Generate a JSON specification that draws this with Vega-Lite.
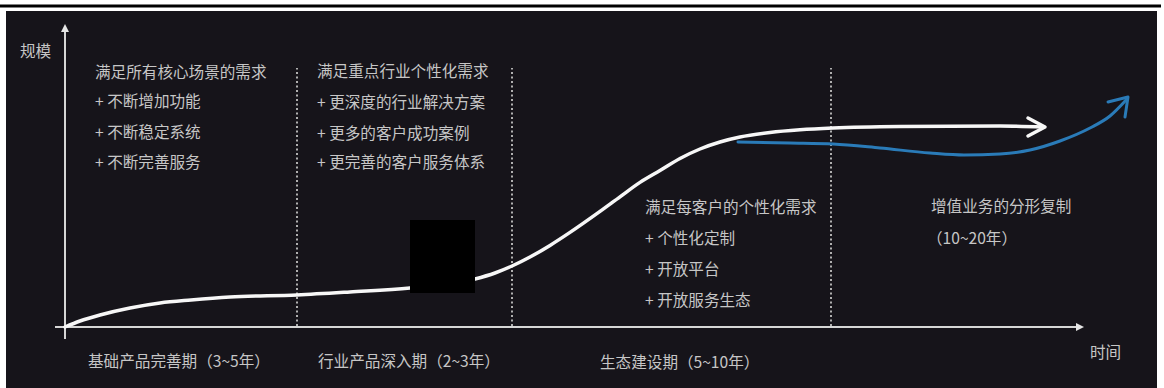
{
  "$schema": "https://vega.github.io/schema/vega-lite/v6.json",
  "width": 1164,
  "height": 388,
  "padding": 0,
  "autosize": {"type": "none"},
  "background": "#ffffff",
  "config": {"view": {"stroke": null}},
  "layer": [
    {
      "data": {"values": [{"x": 6, "x2": 1157, "y": 0, "y2": 377}]},
      "mark": {"type": "rect", "color": "#16141a"},
      "encoding": {
        "x": {"field": "x", "type": "quantitative", "scale": {"type": "linear", "domain": [0, 1164], "nice": false, "zero": false}, "axis": null},
        "x2": {"field": "x2"},
        "y": {"field": "y", "type": "quantitative", "scale": {"type": "linear", "domain": [0, 388], "nice": false, "zero": false}, "axis": null},
        "y2": {"field": "y2"}
      }
    },
    {
      "data": {"values": [{"x": 0, "x2": 1161, "y": 382}]},
      "mark": {"type": "rule", "color": "#000000", "strokeWidth": 3},
      "encoding": {
        "x": {"field": "x", "type": "quantitative", "scale": {"type": "linear", "domain": [0, 1164], "nice": false, "zero": false}, "axis": null},
        "x2": {"field": "x2"},
        "y": {"field": "y", "type": "quantitative", "scale": {"type": "linear", "domain": [0, 388], "nice": false, "zero": false}, "axis": null}
      }
    },
    {
      "data": {"values": [{"x": 65, "x2": 65, "y": 49, "y2": 361}, {"x": 55, "x2": 1078, "y": 61, "y2": 61}]},
      "mark": {"type": "rule", "color": "#d6d6d6", "strokeWidth": 2},
      "encoding": {
        "x": {"field": "x", "type": "quantitative", "scale": {"type": "linear", "domain": [0, 1164], "nice": false, "zero": false}, "axis": null},
        "x2": {"field": "x2"},
        "y": {"field": "y", "type": "quantitative", "scale": {"type": "linear", "domain": [0, 388], "nice": false, "zero": false}, "axis": null},
        "y2": {"field": "y2"}
      }
    },
    {
      "data": {"values": [{"t": 65, "v": 364}]},
      "mark": {"type": "point", "shape": "M 0 0 L -0.5 1 L 0.5 1 Z", "size": 256, "filled": true, "color": "#e6e6e6", "opacity": 1},
      "encoding": {
        "x": {"field": "t", "type": "quantitative", "scale": {"type": "linear", "domain": [0, 1164], "nice": false, "zero": false}, "axis": null},
        "y": {"field": "v", "type": "quantitative", "scale": {"type": "linear", "domain": [0, 388], "nice": false, "zero": false}, "axis": null}
      }
    },
    {
      "data": {"values": [{"t": 1084, "v": 61}]},
      "mark": {"type": "point", "shape": "M 0 0 L -1 -0.5 L -1 0.5 Z", "size": 256, "filled": true, "color": "#e6e6e6", "opacity": 1},
      "encoding": {
        "x": {"field": "t", "type": "quantitative", "scale": {"type": "linear", "domain": [0, 1164], "nice": false, "zero": false}, "axis": null},
        "y": {"field": "v", "type": "quantitative", "scale": {"type": "linear", "domain": [0, 388], "nice": false, "zero": false}, "axis": null}
      }
    },
    {
      "data": {"values": [{"t": 297, "from": 62, "to": 320}, {"t": 512, "from": 62, "to": 320}, {"t": 831, "from": 62, "to": 320}]},
      "mark": {"type": "rule", "color": "#b0b0b0", "strokeWidth": 2, "strokeDash": [2, 2.5]},
      "encoding": {
        "x": {"field": "t", "type": "quantitative", "scale": {"type": "linear", "domain": [0, 1164], "nice": false, "zero": false}, "axis": null},
        "y": {"field": "from", "type": "quantitative", "scale": {"type": "linear", "domain": [0, 388], "nice": false, "zero": false}, "axis": null},
        "y2": {"field": "to"}
      }
    },
    {
      "data": {"values": [
        {"t": 65, "v": 61}, {"t": 80, "v": 67}, {"t": 100, "v": 73}, {"t": 130, "v": 80}, {"t": 160, "v": 85},
        {"t": 191, "v": 88}, {"t": 230, "v": 91}, {"t": 297, "v": 93}, {"t": 350, "v": 96}, {"t": 410, "v": 100},
        {"t": 475, "v": 109}, {"t": 495, "v": 115}, {"t": 512, "v": 122}, {"t": 530, "v": 131}, {"t": 550, "v": 142.6},
        {"t": 570, "v": 155.6}, {"t": 600, "v": 176.6}, {"t": 620, "v": 191.2}, {"t": 640, "v": 205.6}, {"t": 660, "v": 217.5},
        {"t": 680, "v": 229.5}, {"t": 700, "v": 239}, {"t": 720, "v": 246}, {"t": 740, "v": 251}, {"t": 770, "v": 255.5},
        {"t": 800, "v": 258.2}, {"t": 833, "v": 260}, {"t": 900, "v": 261.5}, {"t": 1000, "v": 262}, {"t": 1043, "v": 261}
      ]},
      "mark": {"type": "line", "color": "#f7f7f7", "strokeWidth": 3.5, "interpolate": "monotone", "strokeCap": "round"},
      "encoding": {
        "x": {"field": "t", "type": "quantitative", "scale": {"type": "linear", "domain": [0, 1164], "nice": false, "zero": false}, "axis": null},
        "y": {"field": "v", "type": "quantitative", "scale": {"type": "linear", "domain": [0, 388], "nice": false, "zero": false}, "axis": null}
      }
    },
    {
      "data": {"values": [{"t": 1045, "v": 261}]},
      "mark": {"type": "point", "shape": "M -1 -0.53 L 0 0 L -1 0.53", "size": 1156, "filled": false, "stroke": "#f7f7f7", "strokeWidth": 3.5, "opacity": 1, "strokeCap": "round", "strokeJoin": "round"},
      "encoding": {
        "x": {"field": "t", "type": "quantitative", "scale": {"type": "linear", "domain": [0, 1164], "nice": false, "zero": false}, "axis": null},
        "y": {"field": "v", "type": "quantitative", "scale": {"type": "linear", "domain": [0, 388], "nice": false, "zero": false}, "axis": null}
      }
    },
    {
      "data": {"values": [{"x": 410, "x2": 475, "y": 95, "y2": 168}]},
      "mark": {"type": "rect", "color": "#000000"},
      "encoding": {
        "x": {"field": "x", "type": "quantitative", "scale": {"type": "linear", "domain": [0, 1164], "nice": false, "zero": false}, "axis": null},
        "x2": {"field": "x2"},
        "y": {"field": "y", "type": "quantitative", "scale": {"type": "linear", "domain": [0, 388], "nice": false, "zero": false}, "axis": null},
        "y2": {"field": "y2"}
      }
    },
    {
      "data": {"values": [
        {"t": 738, "v": 246}, {"t": 790, "v": 245}, {"t": 833, "v": 244}, {"t": 880, "v": 240}, {"t": 930, "v": 235},
        {"t": 964, "v": 233}, {"t": 1000, "v": 234}, {"t": 1030, "v": 238}, {"t": 1060, "v": 247}, {"t": 1090, "v": 260},
        {"t": 1110, "v": 272}, {"t": 1127, "v": 289}
      ]},
      "mark": {"type": "line", "color": "#2a7bb8", "strokeWidth": 3, "interpolate": "monotone", "strokeCap": "round"},
      "encoding": {
        "x": {"field": "t", "type": "quantitative", "scale": {"type": "linear", "domain": [0, 1164], "nice": false, "zero": false}, "axis": null},
        "y": {"field": "v", "type": "quantitative", "scale": {"type": "linear", "domain": [0, 388], "nice": false, "zero": false}, "axis": null}
      }
    },
    {
      "data": {"values": [{"t": 1128, "v": 291}]},
      "mark": {"type": "point", "shape": "M -1 0.25 L 0 0 L -0.15 1", "size": 1600, "filled": false, "stroke": "#2a7bb8", "strokeWidth": 3, "opacity": 1, "strokeCap": "round", "strokeJoin": "round"},
      "encoding": {
        "x": {"field": "t", "type": "quantitative", "scale": {"type": "linear", "domain": [0, 1164], "nice": false, "zero": false}, "axis": null},
        "y": {"field": "v", "type": "quantitative", "scale": {"type": "linear", "domain": [0, 388], "nice": false, "zero": false}, "axis": null}
      }
    },
    {
      "data": {"values": [
        {"t": 20, "v": 336, "label": "规模"},
        {"t": 95, "v": 315, "label": "满足所有核心场景的需求"},
        {"t": 95, "v": 286, "label": "+ 不断增加功能"},
        {"t": 95, "v": 255, "label": "+ 不断稳定系统"},
        {"t": 95, "v": 225, "label": "+ 不断完善服务"},
        {"t": 317, "v": 316, "label": "满足重点行业个性化需求"},
        {"t": 317, "v": 285, "label": "+ 更深度的行业解决方案"},
        {"t": 317, "v": 254, "label": "+ 更多的客户成功案例"},
        {"t": 317, "v": 225, "label": "+ 更完善的客户服务体系"},
        {"t": 645, "v": 180, "label": "满足每客户的个性化需求"},
        {"t": 645, "v": 149, "label": "+ 个性化定制"},
        {"t": 645, "v": 118, "label": "+ 开放平台"},
        {"t": 645, "v": 87, "label": "+ 开放服务生态"},
        {"t": 931, "v": 181, "label": "增值业务的分形复制"},
        {"t": 927, "v": 149, "label": "（10~20年）"},
        {"t": 88, "v": 26, "label": "基础产品完善期（3~5年）"},
        {"t": 318, "v": 26, "label": "行业产品深入期（2~3年）"},
        {"t": 600, "v": 25, "label": "生态建设期（5~10年）"},
        {"t": 1090, "v": 35, "label": "时间"}
      ]},
      "mark": {"type": "text", "align": "left", "baseline": "middle", "font": "Noto Sans CJK SC", "fontSize": 15.6, "color": "#c6c6c6"},
      "encoding": {
        "x": {"field": "t", "type": "quantitative", "scale": {"type": "linear", "domain": [0, 1164], "nice": false, "zero": false}, "axis": null},
        "y": {"field": "v", "type": "quantitative", "scale": {"type": "linear", "domain": [0, 388], "nice": false, "zero": false}, "axis": null},
        "text": {"field": "label", "type": "nominal"}
      }
    }
  ]
}
